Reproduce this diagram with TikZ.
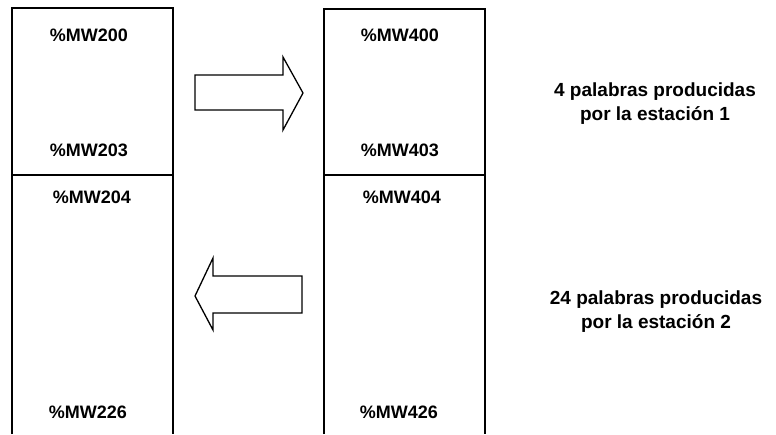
\documentclass[tikz,border=0pt]{standalone}
\usepackage{fontspec}
\setmainfont{Liberation Sans}
\begin{document}
\begin{tikzpicture}[x=1pt,y=-1pt,
  frame/.style={draw=black,line width=1.3pt},
  blockarrow/.style={draw=black,line width=1.3pt,fill=white,line join=miter},
  reg/.style={font=\fontsize{18}{20}\selectfont\bfseries,inner sep=0pt},
  note/.style={font=\fontsize{19}{24}\selectfont\bfseries,align=center,inner sep=0pt}]
\useasboundingbox (0,0) rectangle (776,434);
% left memory column (station 1)
\draw[frame] (12,434) -- (12,8) -- (173,8) -- (173,434);
\draw[frame] (12,175) -- (173,175);
% right memory column (station 2)
\draw[frame] (324,434) -- (324,9) -- (485,9) -- (485,434);
\draw[frame] (324,175) -- (485,175);
% arrow to the right
\draw[blockarrow] (195,75) -- (283,75) -- (283,57) -- (303,93) -- (283,130) -- (283,110) -- (195,110) -- cycle;
% arrow to the left
\draw[blockarrow] (302,276) -- (213,276) -- (213,258) -- (195,296) -- (213,330) -- (213,313) -- (302,313) -- cycle;
% register labels
\node[reg] (a200) at (89,35) {\%MW200};
\node[reg] (a203) at (89,150) {\%MW203};
\node[reg] (a204) at (92,197) {\%MW204};
\node[reg] (a226) at (88,412) {\%MW226};
\node[reg] (b400) at (400,35) {\%MW400};
\node[reg] (b403) at (400,150) {\%MW403};
\node[reg] (b404) at (402,197) {\%MW404};
\node[reg] (b426) at (399,412) {\%MW426};
% notes
\node[note] (n1) at (655,104) {4 palabras producidas\\por la estación 1};
\node[note] (n2) at (656,312) {24 palabras producidas\\por la estación 2};
\end{tikzpicture}
\end{document}
